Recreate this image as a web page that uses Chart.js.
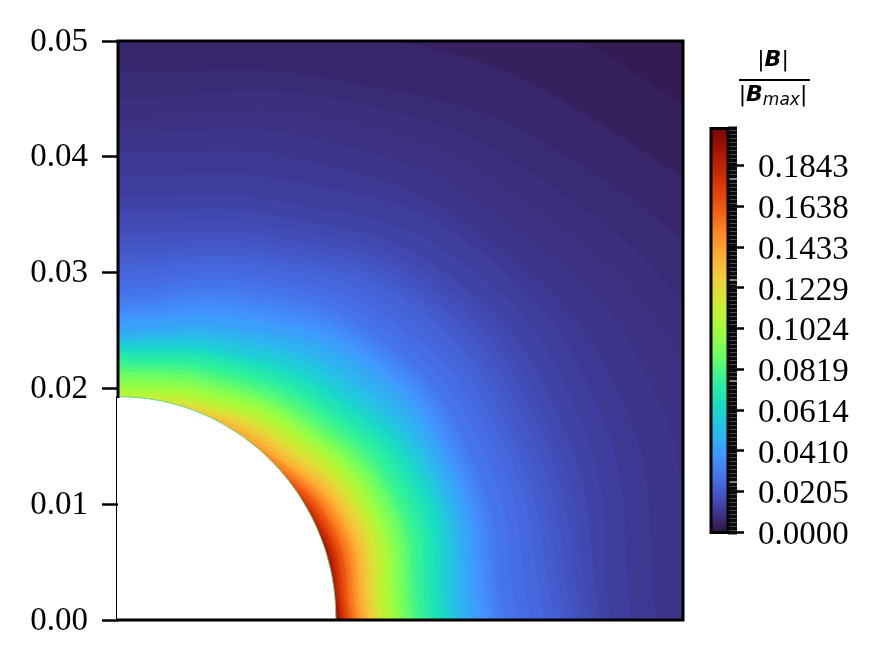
<!DOCTYPE html>
<html>
<head>
<meta charset="utf-8">
<title>Champ B</title>
<script src="https://cdn.jsdelivr.net/npm/chart.js@4"></script>
<style>
    html, body { margin: 0; padding: 0; background: #fff; width: 879px; height: 667px; overflow: hidden; }
    canvas { position: absolute; top: 0; }
    #champ { left: 0; }
    #barre { left: 700px; }
    .titre { position: absolute; left: 729px; width: 88px; text-align: center; color: #000;
             font-family: "DejaVu Sans"; font-size: 22px; line-height: 24px; white-space: nowrap; }
    .titre b { font-style: italic; }
    .titre i { font-size: 17px; position: relative; top: 4px; }
    #filet { position: absolute; left: 739px; top: 79px; width: 71px; height: 2px; background: #000; }
</style>
</head>
<body>
<canvas id="champ" width="700" height="667"></canvas>
<canvas id="barre" width="179" height="667"></canvas>
<div class="titre" style="top:47px">|<b>B</b>|</div>
<div id="filet"></div>
<div class="titre" style="top:82px">|<b>B</b><i>max</i>|</div>
<script>
// valeur de chaque contour, du plus fort au plus faible
const niveaux = [0.2, 0.195, 0.19, 0.185, 0.18, 0.175, 0.17, 0.165, 0.16, 0.155, 0.15, 0.145, 0.14, 0.135, 0.13, 0.125, 0.12, 0.115, 0.11, 0.105, 0.1,
    0.096, 0.092, 0.088, 0.084, 0.08, 0.076, 0.072, 0.068, 0.064, 0.06, 0.056, 0.052, 0.048, 0.045, 0.042,
    0.04, 0.038, 0.036, 0.034, 0.032, 0.03, 0.028, 0.026, 0.024, 0.0226, 0.021, 0.0195, 0.018, 0.0165, 0.015,
    0.0135, 0.012, 0.0105, 0.0095, 0.0085, 0.0078, 0.0068, 0.0055, 0.004, 0.0024];

// rayon de chaque contour lu sur 5 directions (angle en degres)
const rayons0 = [0.01943, 0.01955, 0.0197, 0.01985, 0.02, 0.0202, 0.0204, 0.0206, 0.0208, 0.0211, 0.0213, 0.0216, 0.0219, 0.0222, 0.0225, 0.0228, 0.0231, 0.0235, 0.0239, 0.0243, 0.0247,
    0.0251, 0.0255, 0.0259, 0.0263, 0.0268, 0.0273, 0.0278, 0.0283, 0.0288, 0.0293, 0.0298, 0.0303, 0.0309, 0.0314, 0.0319,
    0.03224, 0.03265, 0.03305, 0.03345, 0.03385, 0.0343, 0.0353, 0.03648, 0.0378, 0.03869, 0.0396, 0.0403, 0.0411, 0.0419, 0.0427,
    0.04355, 0.04549, 0.0477, 0.0505, 0.0535, 0.058, 0.0648, 0.069, 0.0745, 0.12];
const rayons22 = [0.0188, 0.0191, 0.0194, 0.0196, 0.0198, 0.02, 0.0202, 0.0205, 0.0207, 0.021, 0.0213, 0.0216, 0.0219, 0.0222, 0.0226, 0.0229, 0.0233, 0.0237, 0.0241, 0.0245, 0.0249,
    0.0253, 0.0257, 0.0262, 0.0266, 0.0271, 0.0277, 0.0283, 0.0288, 0.0294, 0.0299, 0.0304, 0.0309, 0.0314, 0.0319, 0.0323,
    0.0325, 0.0329, 0.0333, 0.0337, 0.0341, 0.0344, 0.0355, 0.0365, 0.0374, 0.0382, 0.039, 0.0399, 0.0408, 0.0417, 0.0428,
    0.0444, 0.0463, 0.0485, 0.0515, 0.0545, 0.0575, 0.0615, 0.0665, 0.0715, 0.12];
const rayons45 = [0.018, 0.018, 0.018, 0.0182, 0.0183, 0.0185, 0.0187, 0.0189, 0.0191, 0.0193, 0.0196, 0.0198, 0.0201, 0.0204, 0.0208, 0.0211, 0.0215, 0.0219, 0.0223, 0.0227, 0.0231,
    0.0235, 0.0238, 0.0242, 0.0247, 0.0252, 0.0257, 0.0262, 0.0268, 0.0273, 0.0279, 0.0286, 0.0293, 0.0301, 0.0308, 0.0313,
    0.0317, 0.0321, 0.0325, 0.0329, 0.0334, 0.0338, 0.0346, 0.0356, 0.0367, 0.0378, 0.0385, 0.0392, 0.04, 0.0408, 0.0418,
    0.0434, 0.0452, 0.0465, 0.0485, 0.051, 0.0535, 0.0565, 0.0605, 0.066, 0.12];
const rayons67 = [0.018, 0.018, 0.018, 0.018, 0.018, 0.018, 0.018, 0.018, 0.018, 0.018, 0.0183, 0.0186, 0.0189, 0.0192, 0.0194, 0.0197, 0.0199, 0.0202, 0.0205, 0.0209, 0.0213,
    0.0217, 0.022, 0.0224, 0.0228, 0.0232, 0.0236, 0.0241, 0.0245, 0.0248, 0.0252, 0.0258, 0.0263, 0.0268, 0.0273, 0.0279,
    0.0283, 0.0288, 0.0293, 0.0298, 0.0303, 0.0308, 0.0315, 0.0322, 0.0331, 0.0337, 0.0344, 0.0351, 0.0358, 0.0367, 0.0377,
    0.039, 0.041, 0.043, 0.045, 0.047, 0.0488, 0.0505, 0.055, 0.06, 0.12];
const rayons90 = [0.018, 0.018, 0.018, 0.018, 0.018, 0.018, 0.018, 0.018, 0.018, 0.018, 0.018, 0.018, 0.018, 0.018, 0.018, 0.0183, 0.0188, 0.0192, 0.01955, 0.0199, 0.02033,
    0.0207, 0.0211, 0.0215, 0.0218, 0.02215, 0.0225, 0.0229, 0.0232, 0.02345, 0.02379, 0.0241, 0.0244, 0.0247, 0.0251, 0.0256,
    0.026, 0.0263, 0.0266, 0.0271, 0.0275, 0.0279, 0.0285, 0.0293, 0.0302, 0.0308, 0.0316, 0.0324, 0.0333, 0.0342, 0.0354,
    0.0365, 0.0384, 0.0404, 0.042, 0.0433, 0.045, 0.0475, 0.0514, 0.0545, 0.12];

// cosinus / sinus des 5 directions, de 90 a 0 degres
const cosRayons = [0, 0.3827, 0.7071, 0.9239, 1];
const sinRayons = [1, 0.9239, 0.7071, 0.3827, 0];

// le trou (quart de cercle)
const trouX = [0, 0.00252, 0.005, 0.00739, 0.00965, 0.01175, 0.01365, 0.01531, 0.01671, 0.01783, 0.01864, 0.01913, 0.0193];
const trouY = [0.0193, 0.01913, 0.01864, 0.01783, 0.01671, 0.01531, 0.01365, 0.01175, 0.00965, 0.00739, 0.005, 0.00252, 0];

const ticksChamp = [0, 0.01, 0.02, 0.03, 0.04, 0.05];
const etiquettesChamp = ["0.00", "0.01", "0.02", "0.03", "0.04", "0.05"];

const valeurMax = 0.203;
const ticksBarre = [0, 0.0205, 0.041, 0.0614, 0.0819, 0.1024, 0.1229, 0.1433, 0.1638, 0.1843];
const etiquettesBarre = ["0.0000", "0.0205", "0.0410", "0.0614", "0.0819", "0.1024", "0.1229", "0.1433", "0.1638", "0.1843"];

// palette turbo : [index sur 255, r, g, b]
const palette = [[0, 48, 18, 59], [4, 53, 30, 88], [8, 57, 42, 115], [12, 61, 53, 139], [16, 64, 64, 162], [24, 68, 86, 199],
    [32, 70, 107, 227], [48, 66, 148, 255], [64, 40, 188, 235], [80, 24, 221, 194], [96, 50, 242, 152], [112, 109, 254, 98],
    [128, 164, 252, 60], [144, 205, 236, 52], [160, 238, 207, 58], [176, 253, 172, 52], [192, 251, 126, 33], [208, 235, 80, 14],
    [224, 208, 47, 5], [240, 169, 22, 1], [255, 122, 4, 3]];

const policeTicks = { family: "Liberation Serif", size: 33 };

function couleur(valeur) {
    const i = Math.min(valeur / valeurMax, 1) * 255;
    let k = 0;
    while (k < palette.length - 2 && palette[k + 1][0] < i) {
        k++;
    }
    const a = palette[k];
    const b = palette[k + 1];
    const t = (i - a[0]) / (b[0] - a[0]);
    const c = [1, 2, 3].map(j => Math.round(a[j] + (b[j] - a[j]) * t));
    return "rgb(" + c.join(",") + ")";
}

function pointsContour(n) {
    const r = [rayons90[n], rayons67[n], rayons45[n], rayons22[n], rayons0[n]];
    return r.map((rayon, j) => ({ x: rayon * cosRayons[j], y: rayon * sinRayons[j] }));
}

const datasetsChamp = [{
    data: trouX.map((x, i) => ({ x: x, y: trouY[i] })),
    borderColor: "#5fdc8c",
    borderWidth: 1,
    backgroundColor: "#ffffff",
    fill: "origin",
    pointRadius: 0,
    tension: 0.4
}];

niveaux.forEach((niveau, n) => {
    datasetsChamp.push({
        data: pointsContour(n),
        borderWidth: 0,
        backgroundColor: couleur(niveau),
        fill: "origin",
        pointRadius: 0,
        tension: 0.45
    });
});

const cadreChamp = {
    id: "cadreChamp",
    afterDatasetsDraw(chart) {
        const zone = chart.chartArea;
        const yTrou = chart.scales.y.getPixelForValue(trouY[0]);
        const ctx = chart.ctx;
        ctx.save();
        ctx.strokeStyle = "#000";
        ctx.lineWidth = 3;
        ctx.lineCap = "square";
        ctx.beginPath();
        ctx.moveTo(zone.left, yTrou);
        ctx.lineTo(zone.left, zone.top);
        ctx.lineTo(zone.right, zone.top);
        ctx.lineTo(zone.right, zone.bottom);
        ctx.lineTo(zone.left, zone.bottom);
        ctx.stroke();
        ctx.lineWidth = 1;
        ctx.lineCap = "butt";
        ctx.beginPath();
        ctx.moveTo(zone.left - 1.5, yTrou);
        ctx.lineTo(zone.left - 1.5, zone.bottom);
        ctx.stroke();
        ctx.restore();
    }
};

new Chart(document.getElementById("champ"), {
    type: "line",
    data: { datasets: datasetsChamp },
    plugins: [cadreChamp],
    options: {
        responsive: false,
        animation: false,
        layout: { padding: { top: 41, right: 17, bottom: 47, left: 0 } },
        plugins: { legend: { display: false }, tooltip: { enabled: false } },
        elements: { line: { capBezierPoints: false } },
        scales: {
            x: { type: "linear", display: false, min: 0, max: 0.05 },
            y: {
                type: "linear",
                min: 0,
                max: 0.05,
                afterFit(scale) { scale.width = 118; },
                afterBuildTicks(scale) { scale.ticks = ticksChamp.map(v => ({ value: v })); },
                border: { display: false },
                grid: { drawOnChartArea: false, tickLength: 16, tickWidth: 2.5, tickColor: "#000" },
                ticks: {
                    autoSkip: false,
                    maxRotation: 0,
                    padding: 14,
                    labelOffset: 1,
                    color: "#000",
                    font: policeTicks,
                    callback: (v, i) => etiquettesChamp[i]
                }
            }
        }
    }
});

function degrade(ctx) {
    const zone = ctx.chart.chartArea;
    if (!zone) {
        return "#000";
    }
    const g = ctx.chart.ctx.createLinearGradient(0, zone.bottom, 0, zone.top);
    palette.forEach(p => g.addColorStop(p[0] / 255, "rgb(" + p[1] + "," + p[2] + "," + p[3] + ")"));
    return g;
}

const cadreBarre = {
    id: "cadreBarre",
    afterDatasetsDraw(chart) {
        const zone = chart.chartArea;
        chart.ctx.save();
        chart.ctx.strokeStyle = "#000";
        chart.ctx.lineWidth = 3;
        chart.ctx.strokeRect(zone.left, zone.top, zone.right - zone.left, zone.bottom - zone.top);
        chart.ctx.restore();
    }
};

// les petits traits serres de la barre : un par niveau du trace d'origine
const ticksMineurs = [];
for (let i = 0; i <= 100; i++) {
    ticksMineurs.push(valeurMax * i / 100);
}

new Chart(document.getElementById("barre"), {
    type: "bar",
    data: {
        labels: [""],
        datasets: [{ data: [valeurMax], backgroundColor: degrade, categoryPercentage: 1, barPercentage: 1 }]
    },
    plugins: [cadreBarre],
    options: {
        responsive: false,
        animation: false,
        layout: { padding: { top: 128.5, right: 0, bottom: 134.5, left: 11 } },
        plugins: { legend: { display: false }, tooltip: { enabled: false } },
        scales: {
            x: { display: false },
            y: {
                type: "linear",
                position: "right",
                min: 0,
                max: valeurMax,
                afterFit(scale) { scale.width = 151; },
                afterBuildTicks(scale) { scale.ticks = ticksBarre.map(v => ({ value: v })); },
                border: { display: false },
                grid: { drawOnChartArea: false, tickLength: 16, tickWidth: 2.5, tickColor: "#000" },
                ticks: {
                    autoSkip: false,
                    maxRotation: 0,
                    padding: 14,
                    labelOffset: 3,
                    color: "#000",
                    font: policeTicks,
                    callback: (v, i) => etiquettesBarre[i]
                }
            },
            y2: {
                type: "linear",
                position: "right",
                weight: -1,
                min: 0,
                max: valeurMax,
                afterFit(scale) { scale.width = 0; },
                afterBuildTicks(scale) { scale.ticks = ticksMineurs.map(v => ({ value: v })); },
                border: { display: false },
                grid: { drawOnChartArea: false, tickLength: 9, tickWidth: 4, tickColor: "#0a0a0a" },
                ticks: { display: false, autoSkip: false }
            }
        }
    }
});
</script>
</body>
</html>
